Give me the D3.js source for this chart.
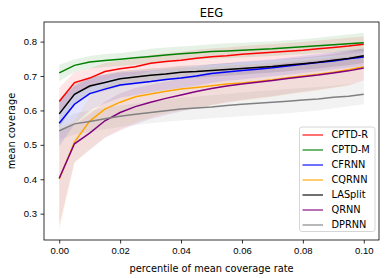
<!DOCTYPE html>
<html>
<head>
<meta charset="utf-8">
<script src="https://cdn.jsdelivr.net/npm/d3@7"></script>
<style>
  body { margin: 0; background: #fff; }
  svg { font-family: "DejaVu Sans", sans-serif; }
  .tick text { font-size: 9.5px; fill: #000; }
  .tick line { stroke: #000; stroke-width: 0.8; }
  .domain { display: none; }
</style>
</head>
<body>
<svg id="chart"></svg>
<script>
// percentile of mean coverage rate
const xs = [0, 0.005, 0.01, 0.015, 0.02, 0.025, 0.03, 0.035, 0.04, 0.045, 0.05,
            0.055, 0.06, 0.065, 0.07, 0.075, 0.08, 0.085, 0.09, 0.095, 0.1];

const cptdR   = [0.626, 0.681, 0.694, 0.713, 0.721, 0.727, 0.737, 0.742, 0.746, 0.752, 0.756, 0.759, 0.763, 0.766, 0.769, 0.772, 0.775, 0.779, 0.783, 0.787, 0.792];
const cptdRLo = [0.590, 0.650, 0.665, 0.688, 0.697, 0.703, 0.713, 0.718, 0.722, 0.728, 0.732, 0.735, 0.739, 0.742, 0.745, 0.748, 0.751, 0.755, 0.759, 0.763, 0.768];
const cptdRHi = [0.665, 0.712, 0.722, 0.738, 0.745, 0.751, 0.761, 0.766, 0.770, 0.776, 0.780, 0.783, 0.787, 0.790, 0.793, 0.796, 0.799, 0.803, 0.807, 0.811, 0.815];

const cptdM   = [0.709, 0.731, 0.741, 0.745, 0.749, 0.753, 0.757, 0.761, 0.765, 0.768, 0.771, 0.773, 0.775, 0.777, 0.779, 0.782, 0.785, 0.788, 0.791, 0.794, 0.797];
const cptdMLo = [0.685, 0.712, 0.722, 0.726, 0.729, 0.733, 0.737, 0.741, 0.745, 0.748, 0.750, 0.752, 0.754, 0.756, 0.758, 0.761, 0.764, 0.766, 0.768, 0.770, 0.772];
const cptdMHi = [0.733, 0.748, 0.758, 0.764, 0.767, 0.772, 0.779, 0.783, 0.786, 0.789, 0.792, 0.795, 0.797, 0.799, 0.801, 0.804, 0.807, 0.811, 0.816, 0.821, 0.826];

const cfrnn   = [0.563, 0.618, 0.649, 0.662, 0.674, 0.679, 0.684, 0.690, 0.694, 0.700, 0.707, 0.712, 0.716, 0.720, 0.724, 0.729, 0.734, 0.739, 0.744, 0.750, 0.755];
const cfrnnLo = [0.495, 0.560, 0.600, 0.620, 0.637, 0.645, 0.652, 0.660, 0.665, 0.672, 0.680, 0.686, 0.690, 0.695, 0.699, 0.704, 0.709, 0.714, 0.719, 0.724, 0.730];
const cfrnnHi = [0.630, 0.670, 0.695, 0.703, 0.710, 0.713, 0.716, 0.720, 0.723, 0.728, 0.734, 0.738, 0.742, 0.745, 0.749, 0.754, 0.759, 0.764, 0.769, 0.776, 0.780];

const cqrnn   = [0.400, 0.508, 0.569, 0.604, 0.624, 0.640, 0.648, 0.656, 0.662, 0.667, 0.672, 0.677, 0.680, 0.684, 0.689, 0.695, 0.700, 0.705, 0.711, 0.718, 0.727];
const cqrnnLo = [0.250, 0.445, 0.488, 0.522, 0.545, 0.565, 0.580, 0.592, 0.600, 0.608, 0.615, 0.622, 0.628, 0.633, 0.639, 0.646, 0.652, 0.658, 0.665, 0.672, 0.690];
const cqrnnHi = [0.550, 0.570, 0.640, 0.670, 0.690, 0.705, 0.712, 0.718, 0.722, 0.725, 0.728, 0.731, 0.733, 0.736, 0.739, 0.744, 0.748, 0.752, 0.757, 0.764, 0.766];

const lasplit   = [0.590, 0.647, 0.671, 0.681, 0.692, 0.697, 0.702, 0.706, 0.711, 0.713, 0.716, 0.719, 0.722, 0.725, 0.728, 0.732, 0.736, 0.740, 0.746, 0.751, 0.759];
const lasplitLo = [0.550, 0.615, 0.645, 0.657, 0.670, 0.676, 0.682, 0.687, 0.692, 0.695, 0.698, 0.701, 0.704, 0.707, 0.710, 0.714, 0.718, 0.722, 0.727, 0.731, 0.738];
const lasplitHi = [0.632, 0.680, 0.697, 0.705, 0.714, 0.718, 0.722, 0.725, 0.730, 0.731, 0.734, 0.737, 0.740, 0.743, 0.746, 0.750, 0.754, 0.758, 0.765, 0.771, 0.780];

const qrnn   = [0.403, 0.503, 0.534, 0.570, 0.594, 0.611, 0.624, 0.635, 0.645, 0.655, 0.664, 0.671, 0.677, 0.682, 0.687, 0.693, 0.698, 0.703, 0.709, 0.715, 0.723];
const qrnnLo = [0.265, 0.450, 0.485, 0.520, 0.542, 0.560, 0.575, 0.587, 0.597, 0.607, 0.616, 0.624, 0.630, 0.636, 0.641, 0.648, 0.654, 0.660, 0.667, 0.674, 0.684];
const qrnnHi = [0.540, 0.560, 0.590, 0.625, 0.650, 0.665, 0.675, 0.684, 0.693, 0.702, 0.711, 0.718, 0.724, 0.728, 0.733, 0.738, 0.742, 0.746, 0.751, 0.756, 0.762];

const dprnn   = [0.541, 0.561, 0.568, 0.576, 0.583, 0.589, 0.594, 0.599, 0.604, 0.607, 0.610, 0.614, 0.618, 0.621, 0.624, 0.627, 0.630, 0.633, 0.638, 0.641, 0.647];
const dprnnLo = [0.515, 0.530, 0.537, 0.545, 0.552, 0.558, 0.563, 0.567, 0.571, 0.574, 0.577, 0.580, 0.583, 0.586, 0.589, 0.592, 0.596, 0.600, 0.606, 0.612, 0.618];
const dprnnHi = [0.568, 0.592, 0.600, 0.607, 0.614, 0.620, 0.625, 0.631, 0.637, 0.640, 0.644, 0.648, 0.652, 0.656, 0.659, 0.662, 0.665, 0.668, 0.672, 0.676, 0.682];

const names  = ['CPTD-R', 'CPTD-M', 'CFRNN', 'CQRNN', 'LASplit', 'QRNN', 'DPRNN'];
const colors = ['#ff0000', '#008000', '#0000ff', '#ffa500', '#000000', '#800080', '#808080'];
const xTicks = [0, 0.02, 0.04, 0.06, 0.08, 0.1];
const yTicks = [0.3, 0.4, 0.5, 0.6, 0.7, 0.8];

const series = [
  {mean: cptdR, lo: cptdRLo, hi: cptdRHi},
  {mean: cptdM, lo: cptdMLo, hi: cptdMHi},
  {mean: cfrnn, lo: cfrnnLo, hi: cfrnnHi},
  {mean: cqrnn, lo: cqrnnLo, hi: cqrnnHi},
  {mean: lasplit, lo: lasplitLo, hi: lasplitHi},
  {mean: qrnn, lo: qrnnLo, hi: qrnnHi},
  {mean: dprnn, lo: dprnnLo, hi: dprnnHi}
].map((s, i) => ({...s, name: names[i], color: colors[i]}));

const W = 386, H = 278;
const margin = {top: 22, right: 7, bottom: 38, left: 44},
  width = W - margin.left - margin.right,
  height = H - margin.top - margin.bottom;

const svg = d3.select('#chart').attr('width', W).attr('height', H);
const chart = svg.append('g')
  .attr('transform', `translate(${margin.left},${margin.top})`);

const x = d3.scaleLinear().domain([-0.005, 0.105]).range([0, width]);
const y = d3.scaleLinear().domain([0.2235, 0.857]).range([height, 0]);

// bands
const area = (s) => d3.area()
  .x((d, i) => x(xs[i]))
  .y0((d, i) => y(s.lo[i]))
  .y1((d, i) => y(s.hi[i]));

chart.selectAll('.band')
  .data(series)
  .enter().append('path')
  .attr('class', 'band')
  .attr('d', (s) => area(s)(s.mean))
  .attr('fill', (s) => s.color)
  .attr('fill-opacity', 0.1);

const line = d3.line().x((d, i) => x(xs[i])).y((d) => y(d));

chart.selectAll('.series')
  .data(series)
  .enter().append('path')
  .attr('class', 'series')
  .attr('d', (s) => line(s.mean))
  .attr('fill', 'none')
  .attr('stroke', (s) => s.color)
  .attr('stroke-width', 1.5);

// axes
chart.append('g')
  .attr('transform', `translate(0,${height})`)
  .call(d3.axisBottom(x).tickValues(xTicks).tickFormat(d3.format('.2f')).tickSize(3.5).tickPadding(3.5));

chart.append('g')
  .call(d3.axisLeft(y).tickValues(yTicks).tickFormat(d3.format('.1f')).tickSize(3.5).tickPadding(3.5));

chart.append('rect')
  .attr('width', width)
  .attr('height', height)
  .attr('fill', 'none')
  .attr('stroke', '#000')
  .attr('stroke-width', 0.8);

// labels
svg.append('text')
  .attr('x', margin.left + width / 2)
  .attr('y', 16.5)
  .attr('text-anchor', 'middle')
  .style('font-size', '11.5px')
  .text('EEG');

svg.append('text')
  .attr('x', margin.left + width / 2)
  .attr('y', 272)
  .attr('text-anchor', 'middle')
  .style('font-size', '9.8px')
  .text('percentile of mean coverage rate');

svg.append('text')
  .attr('transform', `translate(14.5,${margin.top + height / 2}) rotate(-90)`)
  .attr('text-anchor', 'middle')
  .style('font-size', '9.8px')
  .text('mean coverage');

// legend
const legend = svg.append('g').attr('transform', 'translate(299.5,127)');
legend.append('rect')
  .attr('width', 75.5)
  .attr('height', 104.5)
  .attr('rx', 2.5)
  .attr('fill', '#fff')
  .attr('fill-opacity', 0.8)
  .attr('stroke', '#cccccc')
  .attr('stroke-width', 0.8);

const item = legend.selectAll('.item')
  .data(series)
  .enter().append('g')
  .attr('class', 'item')
  .attr('transform', (d, i) => `translate(0,${8 + i * 15})`);

item.append('line')
  .attr('x1', 3).attr('x2', 23.5)
  .attr('stroke', (d) => d.color)
  .attr('stroke-opacity', 0.75)
  .attr('stroke-width', 1.5);

item.append('text')
  .attr('x', 32)
  .attr('dy', '0.35em')
  .style('font-size', '9.8px')
  .text((d) => d.name);
</script>
</body>
</html>
